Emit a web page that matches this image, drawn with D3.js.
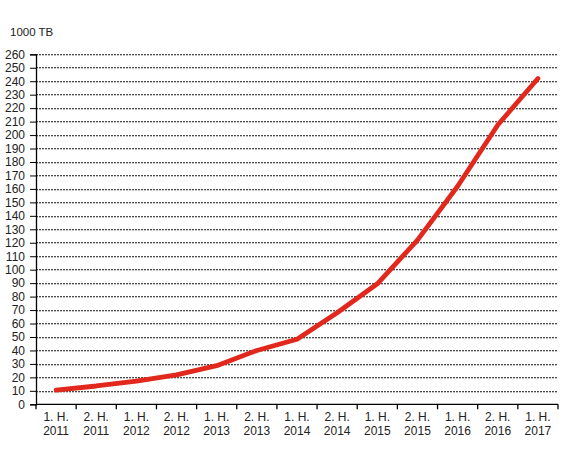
<!DOCTYPE html>
<html>
<head>
<meta charset="utf-8">
<script src="https://cdn.jsdelivr.net/npm/d3@7"></script>
<style>
  body { margin: 0; background: #fff; }
  text { font-family: "Liberation Sans", Arial, sans-serif; fill: #222; }
</style>
</head>
<body>
<script>
// half-year labels (two lines each)
var halves = ["1. H.", "2. H.", "1. H.", "2. H.", "1. H.", "2. H.", "1. H.", "2. H.", "1. H.", "2. H.", "1. H.", "2. H.", "1. H."];
var years = ["2011", "2011", "2012", "2012", "2013", "2013", "2014", "2014", "2015", "2015", "2016", "2016", "2017"];
// values in 1000 TB
var values = [10.6, 13.6, 17.3, 21.8, 28.7, 40, 48.3, 68, 89.5, 122, 162, 207.5, 242];
var yTicks = d3.range(0, 261, 10);

var svgWidth = 576;
var svgHeight = 470;
var margin = { top: 54.3, right: 18, bottom: 65.7, left: 36 };
var width = svgWidth - margin.left - margin.right;
var height = svgHeight - margin.top - margin.bottom;

var svg = d3.select("body")
  .append("svg")
  .attr("width", svgWidth)
  .attr("height", svgHeight);

var chartGroup = svg.append("g")
  .attr("transform", `translate(${margin.left}, ${margin.top})`);

var idx = d3.range(values.length);

var xScale = d3.scaleBand()
  .domain(idx)
  .range([0, width]);

var yScale = d3.scaleLinear()
  .domain([0, 260])
  .range([height, 0]);

// dashed gridlines
chartGroup.append("g")
  .selectAll("line")
  .data(yTicks.filter(d => d > 0))
  .enter()
  .append("line")
  .attr("x1", 0)
  .attr("x2", width)
  .attr("y1", d => Math.round(yScale(d)) + 0.5)
  .attr("y2", d => Math.round(yScale(d)) + 0.5)
  .attr("stroke", "#111")
  .attr("stroke-width", 1.1)
  .attr("stroke-dasharray", "2,1");

// y axis
var leftAxis = d3.axisLeft(yScale)
  .tickValues(yTicks)
  .tickSize(6)
  .tickPadding(5);

var yAxis = chartGroup.append("g").call(leftAxis);
yAxis.select(".domain").attr("stroke", "#000").attr("stroke-width", 1.3);
yAxis.selectAll(".tick line").attr("stroke", "#000");
yAxis.selectAll("text")
  .style("font-size", "12px")
  .style("font-family", "Liberation Sans, Arial, sans-serif")
  .attr("fill", "#222");

// x axis: ticks at band boundaries
var xAxisG = chartGroup.append("g")
  .attr("transform", `translate(0, ${height})`);

xAxisG.append("line")
  .attr("x1", 0)
  .attr("x2", width)
  .attr("stroke", "#000")
  .attr("stroke-width", 1.3);

xAxisG.selectAll(".xtick")
  .data(idx.concat([values.length]))
  .enter()
  .append("line")
  .attr("class", "xtick")
  .attr("x1", d => d < values.length ? xScale(d) : width)
  .attr("x2", d => d < values.length ? xScale(d) : width)
  .attr("y1", 0)
  .attr("y2", 5)
  .attr("stroke", "#000")
  .attr("stroke-width", 1.3);

var labels = xAxisG.selectAll(".xlabel")
  .data(idx)
  .enter()
  .append("text")
  .attr("class", "xlabel")
  .attr("text-anchor", "middle")
  .style("font-size", "12px");

labels.append("tspan")
  .attr("x", d => xScale(d) + xScale.bandwidth() / 2)
  .attr("y", 17)
  .text(d => halves[d]);

labels.append("tspan")
  .attr("x", d => xScale(d) + xScale.bandwidth() / 2)
  .attr("y", 31)
  .text(d => years[d]);

// the line
var line = d3.line()
  .x(d => xScale(d) + xScale.bandwidth() / 2)
  .y(d => yScale(values[d]));

chartGroup.append("path")
  .datum(idx)
  .attr("d", line)
  .attr("fill", "none")
  .attr("stroke", "#e2271c")
  .attr("stroke-width", 4.8)
  .attr("stroke-linejoin", "round")
  .attr("stroke-linecap", "round");

// unit label
svg.append("text")
  .attr("x", 10)
  .attr("y", 36)
  .style("font-size", "11.5px")
  .text("1000 TB");
</script>
</body>
</html>
